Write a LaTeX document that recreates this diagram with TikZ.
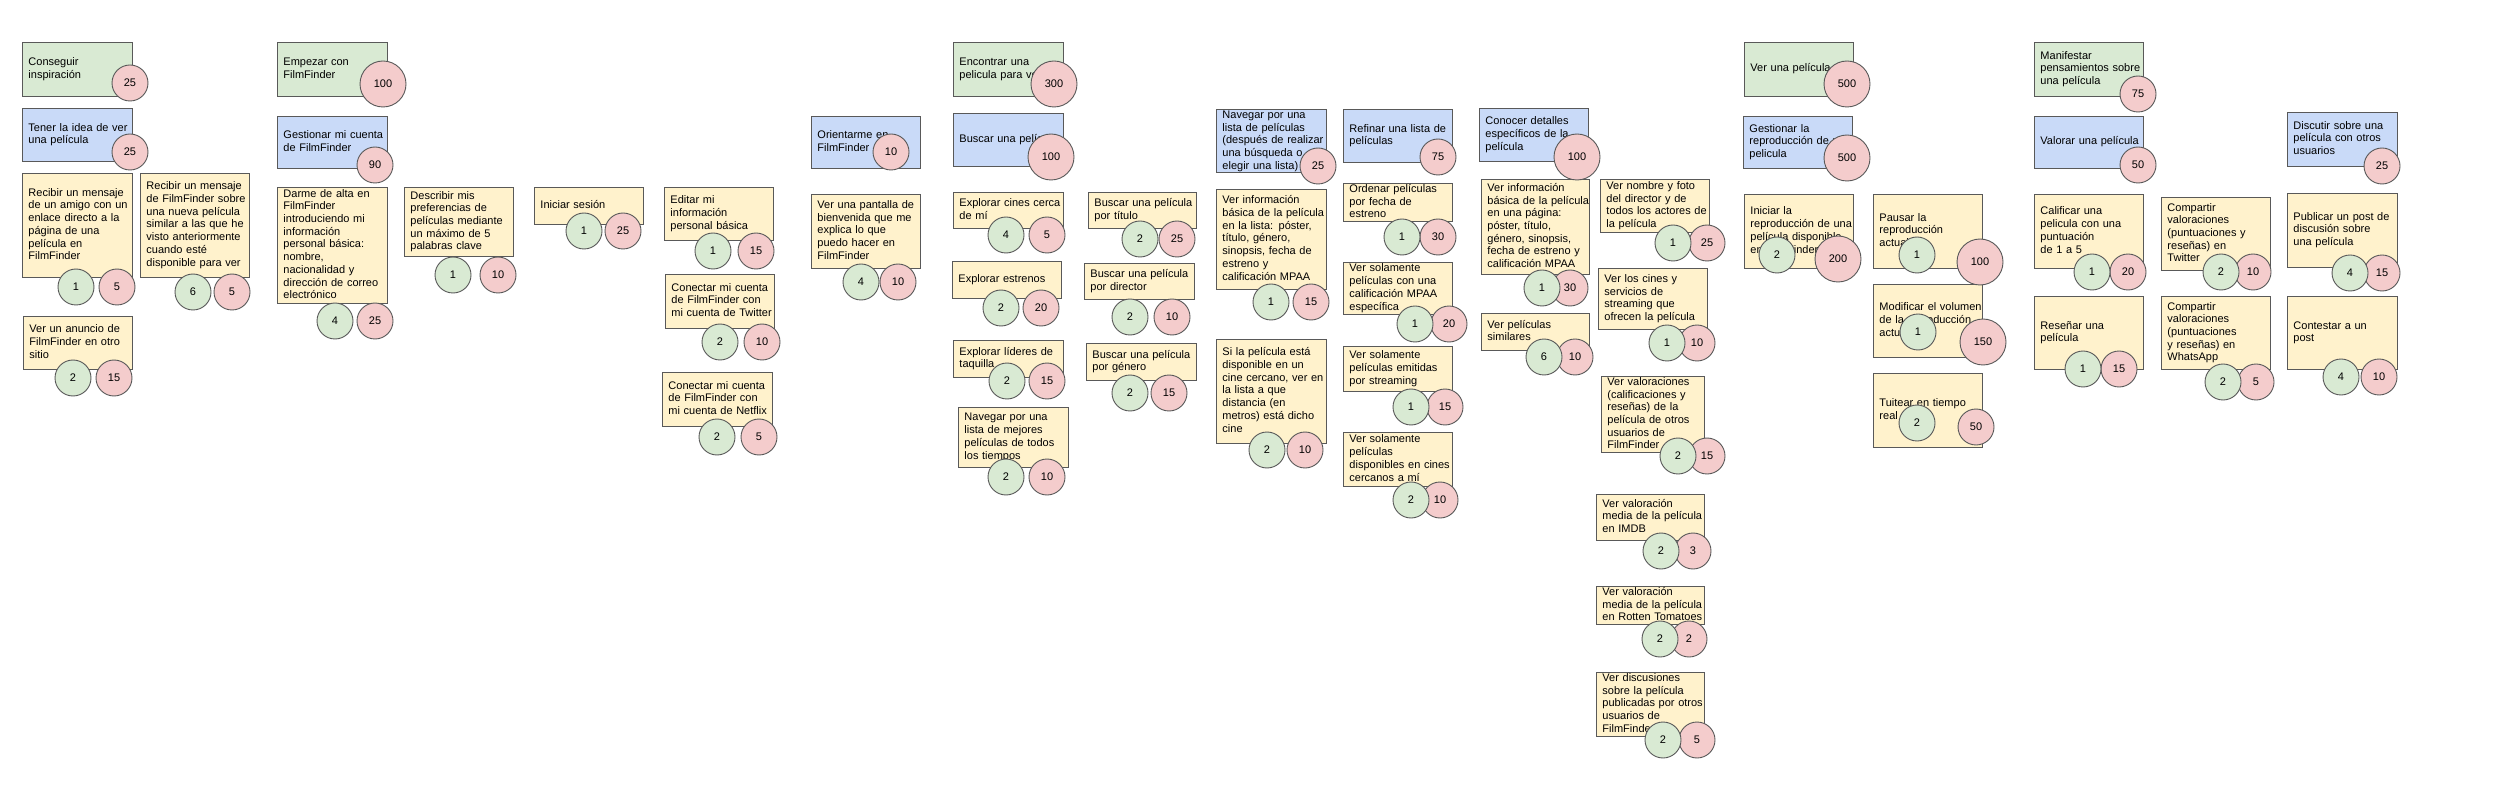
\documentclass[tikz,border=0pt]{standalone}
\usepackage{fontspec}
\setmainfont{Liberation Sans}
\definecolor{gfill}{HTML}{D9EAD3}
\definecolor{bfill}{HTML}{C9DAF8}
\definecolor{yfill}{HTML}{FFF2CC}
\definecolor{rfill}{HTML}{F4CCCC}
\definecolor{edgec}{HTML}{595959}
\newcommand\card[7]{%
  \pgfmathsetmacro\cw{#5-#3}\pgfmathsetmacro\ch{#6-#4}\pgfmathsetmacro\ctw{#5-#3-12}%
  \node[#2, anchor=north west, minimum width=\cw pt, minimum height=\ch pt, text width=\ctw pt] (#1) at (#3,#4) {\begin{tabular}{@{}l@{}}#7\end{tabular}};}
\begin{document}
\begin{tikzpicture}[x=1pt,y=-1pt,
  base/.style={draw=edgec, line width=0.9pt, font=\fontsize{11}{12.7}\selectfont, text=black},
  cardbox/.style={base, rectangle, inner xsep=6pt, inner ysep=0pt, align=left},
  goal/.style={cardbox, fill=gfill},
  task/.style={cardbox, fill=bfill},
  story/.style={cardbox, fill=yfill},
  dot/.style={base, circle, inner sep=0pt, minimum size=36pt},
  rc/.style={dot, fill=rfill},
  gc/.style={dot, fill=gfill},
  big/.style={minimum size=46pt}]
\fill[white] (0,0) rectangle (2500,791);
\useasboundingbox (0,0) rectangle (2500,791);
% ---------- boxes ----------
\card{a1}{goal}{22}{42}{132}{96}{Conseguir\\inspiración}
\card{a2}{task}{22}{108}{132}{161}{Tener la idea de ver\\una película}
\card{a3}{story}{22}{173}{132}{277}{Recibir un mensaje\\de un amigo con un\\enlace directo a la\\página de una\\película en\\FilmFinder}
\card{a4}{story}{140}{173}{249}{277}{Recibir un mensaje\\de FilmFinder sobre\\una nueva película\\similar a las que he\\visto anteriormente\\cuando esté\\disponible para ver}
\card{a5}{story}{23}{316}{132}{369}{Ver un anuncio de\\FilmFinder en otro\\sitio}
\card{b1}{goal}{277}{42}{387}{96}{Empezar con\\FilmFinder}
\card{b2}{task}{277}{116}{387}{168}{Gestionar mi cuenta\\de FilmFinder}
\card{b3}{story}{277}{187}{387}{303}{Darme de alta en\\FilmFinder\\introduciendo mi\\información\\personal básica:\\nombre,\\nacionalidad y\\dirección de correo\\electrónico}
\card{b4}{story}{404}{187}{513}{256}{Describir mis\\preferencias de\\películas mediante\\un máximo de 5\\palabras clave}
\card{b5}{story}{534}{187}{643}{224}{Iniciar sesión}
\card{b6}{story}{664}{187}{773}{240}{Editar mi\\información\\personal básica}
\card{b7}{story}{665}{274}{774}{328}{Conectar mi cuenta\\de FilmFinder con\\mi cuenta de Twitter}
\card{b8}{story}{662}{372}{772}{426}{Conectar mi cuenta\\de FilmFinder con\\mi cuenta de Netflix}
\card{c1}{task}{811}{116}{920}{168}{Orientarme en\\FilmFinder}
\card{c2}{story}{811}{194}{920}{268}{Ver una pantalla de\\bienvenida que me\\explica lo que\\puedo hacer en\\FilmFinder}
\card{d1}{goal}{953}{42}{1063}{96}{Encontrar una\\pelicula para ver}
\card{d2}{task}{953}{113}{1063}{166}{Buscar una película}
\card{d3}{story}{953}{192}{1063}{228}{Explorar cines cerca\\de mí}
\card{d4}{story}{952}{261}{1061}{298}{Explorar estrenos}
\card{d5}{story}{953}{340}{1063}{377}{Explorar líderes de\\taquilla}
\card{d6}{story}{958}{407}{1068}{467}{Navegar por una\\lista de mejores\\películas de todos\\los tiempos}
\card{d7}{story}{1088}{192}{1196}{228}{Buscar una película\\por título}
\card{d8}{story}{1084}{263}{1194}{299}{Buscar una película\\por director}
\card{d9}{story}{1086}{343}{1196}{380}{Buscar una película\\por género}
\card{e1}{task}{1216}{109}{1326}{169}{Navegar por una\\lista de películas\\(después de realizar\\una búsqueda o\\elegir una lista)}
\card{e2}{story}{1216}{189}{1326}{289}{Ver información\\básica de la película\\en la lista: póster,\\título, género,\\sinopsis, fecha de\\estreno y\\calificación MPAA}
\card{e3}{story}{1216}{339}{1326}{443}{Si la película está\\disponible en un\\cine cercano, ver en\\la lista a que\\distancia (en\\metros) está dicho\\cine}
\card{f1}{task}{1343}{109}{1452}{162}{Refinar una lista de\\películas}
\card{f2}{story}{1343}{183}{1452}{220}{Ordenar películas\\por fecha de\\estreno}
\card{f3}{story}{1343}{262}{1452}{314}{Ver solamente\\películas con una\\calificación MPAA\\específica}
\card{f4}{story}{1343}{346}{1452}{391}{Ver solamente\\películas emitidas\\por streaming}
\card{f5}{story}{1343}{432}{1452}{486}{Ver solamente\\películas\\disponibles en cines\\cercanos a mí}
\card{g1}{task}{1479}{108}{1588}{161}{Conocer detalles\\específicos de la\\película}
\card{g2}{story}{1481}{179}{1589}{274}{Ver información\\básica de la película\\en una página:\\póster, título,\\género, sinopsis,\\fecha de estreno y\\calificación MPAA}
\card{g3}{story}{1481}{313}{1589}{350}{Ver películas\\similares}
\card{h1}{story}{1600}{179}{1709}{232}{Ver nombre y foto\\del director y de\\todos los actores de\\la película}
\card{h2}{story}{1598}{268}{1707}{329}{Ver los cines y\\servicios de\\streaming que\\ofrecen la película}
\card{h3}{story}{1601}{376}{1704}{449}{Ver valoraciones\\(calificaciones y\\reseñas) de la\\película de otros\\usuarios de\\FilmFinder}
\card{h4}{story}{1596}{494}{1704}{540}{Ver valoración\\media de la película\\en IMDB}
\card{h5}{story}{1596}{586}{1704}{624}{Ver valoración\\media de la película\\en Rotten Tomatoes}
\card{h6}{story}{1596}{672}{1704}{731}{Ver discusiones\\sobre la película\\publicadas por otros\\usuarios de\\FilmFinder}
\card{i1}{goal}{1744}{42}{1853}{96}{Ver una película}
\card{i2}{task}{1743}{116}{1852}{168}{Gestionar la\\reproducción de una\\pelicula}
\card{i3}{story}{1744}{194}{1853}{268}{Iniciar la\\reproducción de una\\película disponible\\en FilmFinder}
\card{j1}{story}{1873}{194}{1982}{268}{Pausar la\\reproducción\\actual}
\card{j2}{story}{1873}{284}{1982}{357}{Modificar el volumen\\de la reproducción\\actual}
\card{j3}{story}{1873}{373}{1982}{447}{Tuitear en tiempo\\real}
\card{k1}{goal}{2034}{42}{2143}{96}{Manifestar\\pensamientos sobre\\una película}
\card{k2}{task}{2034}{116}{2143}{168}{Valorar una película}
\card{k3}{story}{2034}{194}{2143}{268}{Calificar una\\pelicula con una\\puntuación\\de 1 a 5}
\card{k4}{story}{2034}{296}{2143}{369}{Reseñar una\\película}
\card{l1}{story}{2161}{197}{2270}{270}{Compartir\\valoraciones\\(puntuaciones y\\reseñas) en\\Twitter}
\card{l2}{story}{2161}{296}{2270}{369}{Compartir\\valoraciones\\(puntuaciones\\y reseñas) en\\WhatsApp}
\card{m1}{task}{2287}{112}{2397}{166}{Discutir sobre una\\película con otros\\usuarios}
\card{m2}{story}{2287}{193}{2397}{267}{Publicar un post de\\discusión sobre\\una película}
\card{m3}{story}{2287}{296}{2397}{369}{Contestar a un\\post}
% ---------- red circles ----------
\node[rc] (a1r) at (130,83) {25};
\node[rc] (a2r) at (130,152) {25};
\node[rc] (a3r) at (117,287) {5};
\node[rc] (a4r) at (232,292) {5};
\node[rc] (a5r) at (114,378) {15};
\node[rc,big] (b1r) at (383,84) {100};
\node[rc] (b2r) at (375,165) {90};
\node[rc] (b3r) at (375,321) {25};
\node[rc] (b4r) at (498,275) {10};
\node[rc] (b5r) at (623,231) {25};
\node[rc] (b6r) at (756,251) {15};
\node[rc] (b7r) at (762,342) {10};
\node[rc] (b8r) at (759,437) {5};
\node[rc] (c1r) at (891,152) {10};
\node[rc] (c2r) at (898,282) {10};
\node[rc,big] (d1r) at (1054,84) {300};
\node[rc,big] (d2r) at (1051,157) {100};
\node[rc] (d3r) at (1047,235) {5};
\node[rc] (d4r) at (1041,308) {20};
\node[rc] (d5r) at (1047,381) {15};
\node[rc] (d6r) at (1047,477) {10};
\node[rc] (d7r) at (1177,239) {25};
\node[rc] (d8r) at (1172,317) {10};
\node[rc] (d9r) at (1169,393) {15};
\node[rc] (e1r) at (1318,166) {25};
\node[rc] (e2r) at (1311,302) {15};
\node[rc] (e3r) at (1305,450) {10};
\node[rc] (f1r) at (1438,157) {75};
\node[rc] (f2r) at (1438,237) {30};
\node[rc] (f3r) at (1449,324) {20};
\node[rc] (f4r) at (1445,407) {15};
\node[rc] (f5r) at (1440,500) {10};
\node[rc,big] (g1r) at (1577,157) {100};
\node[rc] (g2r) at (1570,288) {30};
\node[rc] (g3r) at (1575,357) {10};
\node[rc] (h1r) at (1707,243) {25};
\node[rc] (h2r) at (1697,343) {10};
\node[rc] (h3r) at (1707,456) {15};
\node[rc] (h4r) at (1693,551) {3};
\node[rc] (h5r) at (1689,639) {2};
\node[rc] (h6r) at (1697,740) {5};
\node[rc,big] (i1r) at (1847,84) {500};
\node[rc,big] (i2r) at (1847,158) {500};
\node[rc,big] (i3r) at (1838,259) {200};
\node[rc,big] (j1r) at (1980,262) {100};
\node[rc,big] (j2r) at (1983,342) {150};
\node[rc] (j3r) at (1976,427) {50};
\node[rc] (k1r) at (2138,94) {75};
\node[rc] (k2r) at (2138,165) {50};
\node[rc] (k3r) at (2128,272) {20};
\node[rc] (k4r) at (2119,369) {15};
\node[rc] (l1r) at (2253,272) {10};
\node[rc] (l2r) at (2256,382) {5};
\node[rc] (m1r) at (2382,166) {25};
\node[rc] (m2r) at (2382,273) {15};
\node[rc] (m3r) at (2379,377) {10};
% ---------- green circles ----------
\node[gc] (a3g) at (76,287) {1};
\node[gc] (a4g) at (193,292) {6};
\node[gc] (a5g) at (73,378) {2};
\node[gc] (b3g) at (335,321) {4};
\node[gc] (b4g) at (453,275) {1};
\node[gc] (b5g) at (584,231) {1};
\node[gc] (b6g) at (713,251) {1};
\node[gc] (b7g) at (720,342) {2};
\node[gc] (b8g) at (717,437) {2};
\node[gc] (c2g) at (861,282) {4};
\node[gc] (d3g) at (1006,235) {4};
\node[gc] (d4g) at (1001,308) {2};
\node[gc] (d5g) at (1007,381) {2};
\node[gc] (d6g) at (1006,477) {2};
\node[gc] (d7g) at (1140,239) {2};
\node[gc] (d8g) at (1130,317) {2};
\node[gc] (d9g) at (1130,393) {2};
\node[gc] (e2g) at (1271,302) {1};
\node[gc] (e3g) at (1267,450) {2};
\node[gc] (f2g) at (1402,237) {1};
\node[gc] (f3g) at (1415,324) {1};
\node[gc] (f4g) at (1411,407) {1};
\node[gc] (f5g) at (1411,500) {2};
\node[gc] (g2g) at (1542,288) {1};
\node[gc] (g3g) at (1544,357) {6};
\node[gc] (h1g) at (1673,243) {1};
\node[gc] (h2g) at (1667,343) {1};
\node[gc] (h3g) at (1678,456) {2};
\node[gc] (h4g) at (1661,551) {2};
\node[gc] (h5g) at (1660,639) {2};
\node[gc] (h6g) at (1663,740) {2};
\node[gc] (i3g) at (1777,255) {2};
\node[gc] (j1g) at (1917,255) {1};
\node[gc] (j2g) at (1918,332) {1};
\node[gc] (j3g) at (1917,423) {2};
\node[gc] (k3g) at (2092,272) {1};
\node[gc] (k4g) at (2083,369) {1};
\node[gc] (l1g) at (2221,272) {2};
\node[gc] (l2g) at (2223,382) {2};
\node[gc] (m2g) at (2350,273) {4};
\node[gc] (m3g) at (2341,377) {4};
\end{tikzpicture}
\end{document}
